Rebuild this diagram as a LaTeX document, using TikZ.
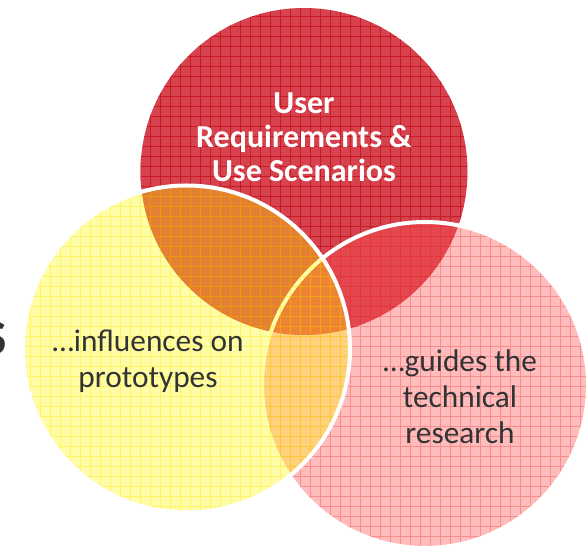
\documentclass[tikz,border=0pt]{standalone}
\usepackage{fontspec}
\setmainfont{Carlito}
\definecolor{usered}{RGB}{214,66,78}
\definecolor{useredline}{RGB}{200,16,26}
\definecolor{guidepink}{RGB}{255,80,80}
\definecolor{guidepinkline}{RGB}{235,70,70}
\definecolor{protoyellow}{RGB}{255,250,0}
\definecolor{protoyellowline}{RGB}{255,230,0}
\definecolor{textgray}{RGB}{51,51,51}
\begin{document}
\begin{tikzpicture}[x=0.75pt, y=0.75pt, line join=round, line cap=round,
    ring/.style={draw=white, line width=3pt},
    hatch/.style={line width=0.45pt, step=7.5pt},
    label/.style={align=center, text=textgray, font=\fontsize{23.5}{27}\selectfont}]
  \useasboundingbox (0,0) rectangle (586,546);
  \path (304,374.5) coordinate (R) (425,161) coordinate (P) (186.5,197) coordinate (Y);
  % red circle at the back
  \fill[usered] (R) circle (163.5);
  \begin{scope}
    \clip (R) circle (163.5);
    \draw[hatch, useredline, opacity=0.8] (130,200) grid (480,546);
  \end{scope}
  % pink circle
  \fill[guidepink, fill opacity=0.38] (P) circle (163);
  \begin{scope}
    \clip (P) circle (163);
    \draw[hatch, guidepinkline, opacity=0.4] (250,0) grid (586,330);
  \end{scope}
  \draw[ring] (P) circle (163);
  % yellow circle on top
  \fill[protoyellow, fill opacity=0.34] (Y) circle (163.5);
  \begin{scope}
    \clip (Y) circle (163.5);
    \draw[hatch, protoyellowline, opacity=0.4] (15,30) grid (360,365);
  \end{scope}
  \draw[ring] (Y) circle (163.5);
  % texts
  \node[align=center, text=white, font=\bfseries\fontsize{24}{25.5}\selectfont] (req) at (304,409) {User\\Requirements \&\\Use Scenarios};
  \node[label] (proto) at (148,185) {\ldots influences on\\prototypes};
  \node[label] (tech) at (460,149) {\ldots guides the\\technical\\research};
  \node[anchor=base east, inner sep=0pt, text=textgray, font=\bfseries\fontsize{37}{40}\selectfont] (s) at (7,191) {S};
\end{tikzpicture}
\end{document}
